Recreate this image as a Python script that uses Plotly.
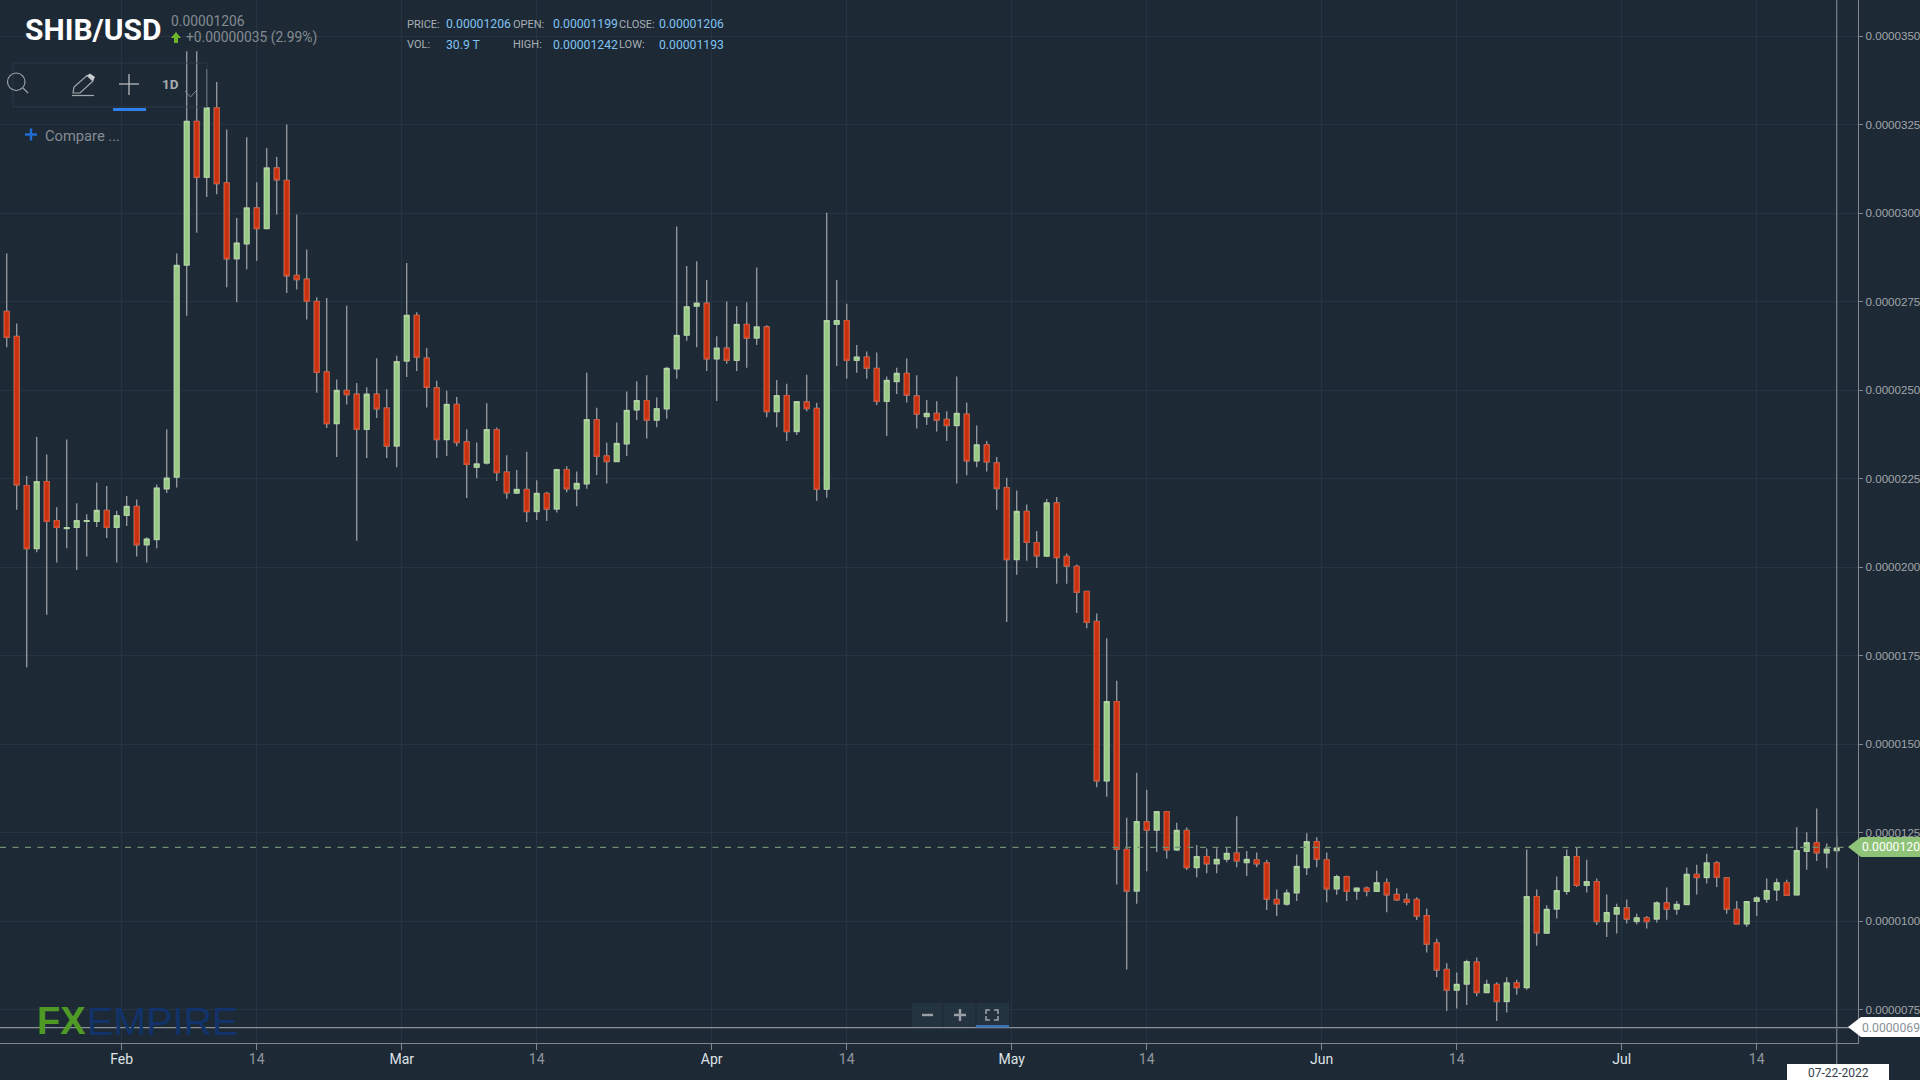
import numpy as np
import pandas as pd
import plotly.graph_objects as go

open_prices = [
27.22,26.51,22.30,20.52,22.41,21.31,21.09,21.12,21.29,21.29,
21.60,21.12,21.46,21.71,20.63,20.78,22.21,22.54,28.53,32.59,
31.01,32.97,30.85,28.71,29.13,30.14,29.56,31.27,30.92,28.24,
28.13,27.50,25.51,24.05,24.99,24.88,23.89,24.88,24.49,23.42,
25.82,27.11,25.90,25.06,23.60,24.59,23.53,22.82,22.94,23.88,
22.68,22.09,22.19,21.57,22.08,21.64,22.75,22.21,22.35,24.16,
23.14,22.98,23.48,24.44,24.70,24.15,24.47,25.60,26.55,27.37,
27.45,25.88,26.18,25.84,26.85,26.47,26.78,24.39,24.84,23.83,
24.66,24.48,22.20,26.86,26.96,25.84,25.93,25.61,24.68,25.24,
25.47,24.83,24.25,24.34,24.17,24.00,24.32,23.00,23.45,22.94,
22.24,20.21,21.57,20.69,20.31,21.81,20.30,20.02,19.31,18.46,
13.96,16.20,12.02,10.85,12.80,12.57,13.09,12.01,12.56,11.51,
11.82,11.62,11.75,11.92,11.65,11.73,11.64,10.61,10.48,10.80,
11.51,12.24,11.73,10.91,11.25,10.85,10.93,10.84,11.08,10.75,
10.61,10.61,10.15,9.38,8.63,8.05,8.22,8.84,7.98,8.21,
7.73,8.25,8.12,10.69,9.66,10.34,10.84,11.82,11.01,11.11,
9.99,10.20,10.37,9.99,10.09,10.06,10.51,10.34,10.47,11.32,
11.23,11.64,11.22,10.33,9.92,10.56,10.62,10.88,11.08,10.74,
11.97,12.21,11.93,11.99]
close_prices = [
26.49,22.32,20.52,22.41,21.29,21.12,21.11,21.31,21.31,21.60,
21.12,21.45,21.71,20.63,20.79,22.23,22.51,28.52,32.59,31.01,
32.97,30.83,28.71,29.15,30.14,29.56,31.27,30.94,28.23,28.12,
27.51,25.50,24.05,24.99,24.87,23.89,24.88,24.47,23.42,25.80,
27.11,25.93,25.08,23.60,24.59,23.52,22.90,22.91,23.88,22.67,
22.10,22.19,21.57,22.08,21.64,22.75,22.21,22.36,24.16,23.13,
22.98,23.49,24.42,24.70,24.15,24.47,25.61,26.54,27.35,27.45,
25.88,26.18,25.84,26.85,26.47,26.78,24.39,24.84,23.83,24.67,
24.48,22.20,26.96,26.96,25.84,25.93,25.62,24.68,25.27,25.47,
24.86,24.32,24.34,24.15,24.00,24.34,23.00,23.45,22.97,22.22,
20.21,21.57,20.70,20.32,21.81,20.27,20.03,19.29,18.44,13.96,
16.20,12.03,10.85,12.81,12.57,13.09,12.01,12.56,11.51,11.82,
11.62,11.74,11.91,11.70,11.74,11.62,10.62,10.49,10.79,11.54,
12.24,11.75,10.91,11.25,10.84,10.93,10.85,11.08,10.74,10.60,
10.53,10.14,9.35,8.62,8.05,8.21,8.85,7.98,8.21,7.73,
8.25,8.12,10.69,9.67,10.33,10.86,11.82,11.01,11.11,9.99,
10.24,10.38,10.06,10.09,9.99,10.51,10.34,10.47,11.32,11.23,
11.64,11.24,10.34,9.92,10.55,10.65,10.86,11.08,10.73,11.99,
12.21,11.93,12.03,12.06]
high_prices = [
28.86,26.88,22.57,23.67,23.18,21.69,23.60,21.80,21.49,22.39,
22.29,21.59,22.01,21.91,20.84,22.33,23.89,28.86,34.57,34.57,
34.06,33.70,32.36,29.86,32.14,30.87,31.84,31.58,32.50,29.96,
28.97,27.62,27.60,25.30,27.38,25.20,25.08,25.90,25.02,25.97,
28.59,27.20,26.19,25.26,24.98,24.80,23.89,23.52,24.63,23.94,
23.16,22.74,23.26,22.45,22.13,22.78,22.85,22.70,25.49,24.50,
23.51,24.08,24.96,25.25,25.42,24.79,25.66,29.62,28.50,28.64,
28.11,26.52,27.50,27.37,27.48,28.46,26.83,25.28,25.18,24.69,
25.43,24.64,30.01,28.11,27.44,26.27,26.09,26.06,25.38,25.63,
25.89,25.42,24.72,24.68,24.40,25.38,24.65,24.00,23.56,23.11,
22.52,22.16,21.77,21.02,21.92,21.98,20.38,20.07,19.33,18.69,
17.99,16.79,12.92,14.19,13.71,13.10,13.10,12.78,12.64,12.15,
12.05,12.06,12.08,12.96,11.98,11.94,11.73,10.89,10.89,11.88,
12.48,12.37,11.94,11.31,11.28,10.95,10.98,11.42,11.20,10.93,
10.78,10.67,10.35,9.50,8.81,8.55,8.91,8.97,8.34,8.27,
8.41,8.34,12.02,10.89,10.45,11.26,12.02,12.08,11.73,11.20,
10.75,10.49,10.61,10.21,10.14,10.56,10.95,10.57,11.51,11.59,
11.90,11.70,11.22,10.57,10.57,10.70,11.20,11.20,11.17,12.65,
12.51,13.18,12.19,12.42]
low_prices = [
26.21,21.62,17.17,20.42,18.65,20.13,20.53,19.92,20.30,21.13,
20.82,20.13,21.16,20.30,20.13,20.53,22.09,22.25,27.10,29.44,
30.45,30.53,27.90,27.48,28.41,28.65,29.56,29.96,27.74,27.84,
26.99,24.92,23.93,23.11,24.59,20.74,23.08,24.21,23.08,22.82,
25.37,25.54,24.51,23.08,23.14,23.41,21.95,22.51,22.90,22.43,
21.93,22.06,21.27,21.33,21.30,21.54,22.11,21.72,22.21,22.60,
22.36,22.96,23.14,24.15,23.63,23.95,24.19,25.32,26.39,26.21,
25.54,24.69,25.74,25.54,25.63,26.27,24.23,23.95,23.56,23.73,
24.40,21.87,21.96,25.68,25.32,25.49,25.32,24.58,23.70,24.89,
24.65,23.91,24.01,23.83,23.56,22.36,22.59,22.82,22.70,21.62,
18.45,19.78,20.18,19.97,20.30,19.53,19.53,18.70,18.27,13.78,
13.51,11.03,8.63,10.49,11.41,11.95,11.77,11.98,11.44,11.24,
11.35,11.35,11.66,11.52,11.27,11.52,10.31,10.14,10.43,10.57,
11.30,11.52,10.53,10.74,10.57,10.60,10.70,10.82,10.25,10.57,
10.45,10.03,9.11,8.41,7.46,7.53,7.63,7.88,7.97,7.18,
7.42,7.92,8.06,9.30,9.65,10.07,10.74,10.96,10.81,9.89,
9.55,9.65,9.93,9.90,9.79,9.96,10.04,10.18,10.45,10.75,
11.06,10.96,10.21,9.90,9.83,10.14,10.52,10.57,10.71,10.73,
11.45,11.70,11.49,11.93]

first_date = "2022-01-20"
month_ticks = ["2022-01-31 12:00", "2022-02-28 12:00", "2022-03-31 12:00", "2022-04-30 12:00",
               "2022-05-31 12:00", "2022-06-30 12:00"]
month_labels = ["Feb", "Mar", "Apr", "May", "Jun", "Jul"]
mid_ticks = ["2022-02-14", "2022-03-14", "2022-04-14", "2022-05-14", "2022-06-14", "2022-07-14"]
mid_labels = ["14", "14", "14", "14", "14", "14"]
price_ticks = [7.5, 10, 12.5, 15, 17.5, 20, 22.5, 25, 27.5, 30, 32.5, 35]
last_price = 12.08
cross_price = 6.99

UNIT = 1e-6
BG = "#1d2a36"
GRID = "#253543"
AXIS = "#7f868c"
WICK = "#90959c"
W, H = 1920, 1080
PW, PH = 1858, 1043

dates = pd.date_range(first_date, periods=len(open_prices), freq="D")
o = np.array(open_prices) * UNIT
c = np.array(close_prices) * UNIT
h = np.array(high_prices) * UNIT
l = np.array(low_prices) * UNIT
top = np.maximum(o, c)
bot = np.minimum(o, c)

fig = go.Figure()
# wicks
fig.add_trace(go.Candlestick(
    x=dates, open=o, high=h, low=l, close=c, hoverinfo="skip", showlegend=False,
    increasing=dict(line=dict(color=WICK, width=1.4), fillcolor="rgba(0,0,0,0)"),
    decreasing=dict(line=dict(color=WICK, width=1.4), fillcolor="rgba(0,0,0,0)"),
))
# bodies
fig.add_trace(go.Candlestick(
    x=dates, open=o, high=top, low=bot, close=c, hoverinfo="skip", showlegend=False,
    increasing=dict(line=dict(color="#b4d9a2", width=1), fillcolor="#97c983"),
    decreasing=dict(line=dict(color="#dc4a26", width=1), fillcolor="#c8310f"),
))


def fx(px):
    return px / PW


def fy(py):
    return 1 - py / PH


shapes = []
annotations = []


def line(x0, y0, x1, y1, color, width=1, dash=None):
    shapes.append(dict(type="line", xref="paper", yref="paper", x0=fx(x0), y0=fy(y0), x1=fx(x1), y1=fy(y1),
                       line=dict(color=color, width=width, dash=dash), layer="above"))


def rect(x0, y0, x1, y1, fill, border=None):
    shapes.append(dict(type="rect", xref="paper", yref="paper", x0=fx(x0), y0=fy(y0), x1=fx(x1), y1=fy(y1),
                       fillcolor=fill, line=dict(color=border or "rgba(0,0,0,0)", width=1), layer="above"))


def poly(points, fill="rgba(0,0,0,0)", border=None, width=1, close=True):
    d = "M " + " L ".join(f"{fx(a):.5f},{fy(b):.5f}" for a, b in points) + (" Z" if close else "")
    shapes.append(dict(type="path", xref="paper", yref="paper", path=d, fillcolor=fill,
                       line=dict(color=border or "rgba(0,0,0,0)", width=width), layer="above"))


def text(s, x, y, size, color, anchor="left", family="Roboto"):
    annotations.append(dict(text=s, xref="paper", yref="paper", x=fx(x), y=fy(y), xanchor=anchor, yanchor="middle",
                            showarrow=False, font=dict(family=family, size=size, color=color),
                            borderpad=0, borderwidth=0))


# dashed last-price line and crosshair
shapes.append(dict(type="line", xref="paper", yref="y", x0=0, x1=fx(1846), y0=last_price * UNIT, y1=last_price * UNIT,
                   line=dict(color="#6f8f72", width=1.2, dash="6px,6.5px"), layer="above"))
shapes.append(dict(type="line", xref="paper", yref="y", x0=0, x1=1, y0=cross_price * UNIT, y1=cross_price * UNIT,
                   line=dict(color="#8a9096", width=1.4), layer="above"))
line(1836.7, 0, 1836.7, 1064, "#6d7780", 1.4)

# price tags
poly([(1848, 847), (1861, 837), (1921, 837), (1921, 857), (1861, 857)], fill="#8fc478")
text("0.0000120", 1862, 847.5, 12.2, "#ffffff")
poly([(1848, 1027), (1861, 1017), (1921, 1017), (1921, 1037), (1861, 1037)], fill="#ffffff")
text("0.0000069", 1862, 1027.5, 12.2, "#8a9096")
rect(1787, 1064, 1889, 1081, "#ffffff")
text("07-22-2022", 1838, 1073, 12, "#33404c", anchor="center")

# header
text("<b>SHIB/USD</b>", 25, 30, 30, "#ffffff")
text("0.00001206", 171, 21, 13.8, "#858b91")
poly([(176, 32), (181, 38), (178, 38), (178, 43), (174, 43), (174, 38), (171, 38)], fill="#6fb52c")
text("+0.00000035 (2.99%)", 186, 37.5, 13.8, "#858b91")
LAB, VAL = "#a9aeb3", "#80c2f2"
for s, x, y, col in [("PRICE:", 406.5, 24, LAB), ("0.00001206", 446, 24, VAL), ("OPEN:", 513, 24, LAB),
                     ("0.00001199", 552.5, 24, VAL), ("CLOSE:", 619, 24, LAB), ("0.00001206", 659, 24, VAL),
                     ("VOL:", 406.5, 45, LAB), ("30.9 T", 446, 45, VAL), ("HIGH:", 513, 45, LAB),
                     ("0.00001242", 552.5, 45, VAL), ("LOW:", 619, 45, LAB), ("0.00001193", 659, 45, VAL)]:
    text(s, x, y, 12.2 if col == VAL else 11, col)

# toolbar
rect(13, 63, 207, 107, "rgba(0,0,0,0)", "#2a3846")
ICON = "#a3a8ad"
shapes.append(dict(type="circle", xref="paper", yref="paper", x0=fx(7.5), x1=fx(25), y0=fy(73), y1=fy(90.5),
                   line=dict(color=ICON, width=1.1), fillcolor="rgba(0,0,0,0)", layer="above"))
line(23, 88, 28, 93, ICON, 1.1)
poly([(73, 93), (74, 87), (87, 75.5), (93, 81), (80, 93)], border=ICON, width=1.2)
poly([(87, 75.5), (93, 81), (95, 77), (90, 73.5)], fill="#c9cdd1")
line(72, 95.5, 94, 95.5, ICON, 1.2)
line(119, 84, 139, 84, "#b5babf", 1.3)
line(129, 74, 129, 95, "#b5babf", 1.3)
text("<b>1D</b>", 162, 84, 13.5, "#a9aeb3")
poly([(185, 91), (190.5, 97), (196, 91)], border="#7e858b", width=1, close=False)
rect(113, 108, 146, 111, "#2f80ed")
line(25, 134.5, 37, 134.5, "#1f6fd6", 2.4)
line(31, 128.5, 31, 140.5, "#1f6fd6", 2.4)
text("Compare ...", 45, 136.5, 14.7, "#848b92")

# zoom control
rect(912, 1003, 1009, 1027, "#243340")
line(943, 1003, 943, 1027, "#1d2a36", 1)
line(976, 1003, 976, 1027, "#1d2a36", 1)
line(922, 1015, 933, 1015, "#9aa0a6", 2.4)
line(954, 1015, 966, 1015, "#9aa0a6", 2.4)
line(960, 1009, 960, 1021, "#9aa0a6", 2.4)
for a, b, sx, sy in [(986, 1010, 1, 1), (998, 1010, -1, 1), (986, 1020, 1, -1), (998, 1020, -1, -1)]:
    poly([(a + 4 * sx, b), (a, b), (a, b + 4 * sy)], border="#9aa0a6", width=1.6, close=False)
rect(976, 1025, 1009, 1027.5, "#3a6fb5")

# logo
text("<b>FX</b>", 37, 1021, 38, "#4f9a25", family="Liberation Sans")
text("EMPIRE", 87, 1021, 39.5, "#11336a", family="Liberation Sans")

month_text = [f'<span style="color:#dfe3e6">{m}</span>' for m in month_labels]
mid_text = [f'<span style="color:#8f959b">{m}</span>' for m in mid_labels]
xticks = month_ticks + mid_ticks
xtext = month_text + mid_text

fig.update_layout(
    width=W, height=H, autosize=False,
    margin=dict(l=0, r=W - PW, t=0, b=H - PH, pad=0),
    paper_bgcolor=BG, plot_bgcolor=BG, showlegend=False, hovermode=False,
    boxgap=0.32, dragmode=False,
    font=dict(family="Roboto", color="#a0a5aa"),
    shapes=shapes, annotations=annotations,
    xaxis=dict(
        type="date", range=["2022-01-19 07:55", "2022-07-24 03:07"], rangeslider=dict(visible=False),
        tickmode="array", tickvals=xticks, ticktext=xtext, ticks="outside", ticklen=6, tickcolor=AXIS,
        ticklabelstandoff=-3,
        tickangle=0, tickfont=dict(family="Roboto", size=14, color="#8f959b"),
        showgrid=True, gridcolor=GRID, gridwidth=1, zeroline=False,
        showline=True, linecolor=AXIS, linewidth=1.4,
    ),
    yaxis=dict(
        side="right", range=[6.556 * UNIT, 36.017 * UNIT], tickmode="array",
        tickvals=[t * UNIT for t in price_ticks], ticktext=[f"{t * UNIT:.7f}" for t in price_ticks],
        ticks="outside", ticklen=4, tickcolor=AXIS, tickfont=dict(family="Liberation Sans", size=11.6, color="#a0a5aa"),
        showgrid=True, gridcolor=GRID, gridwidth=1, zeroline=False,
        showline=True, linecolor=AXIS, linewidth=1.4, automargin=False,
    ),
)
fig.update_xaxes(automargin=False)

fig.write_html("out.html", config={"displayModeBar": False, "staticPlot": False},
               post_script="document.body.style.margin='0';document.body.style.overflow='hidden';")
